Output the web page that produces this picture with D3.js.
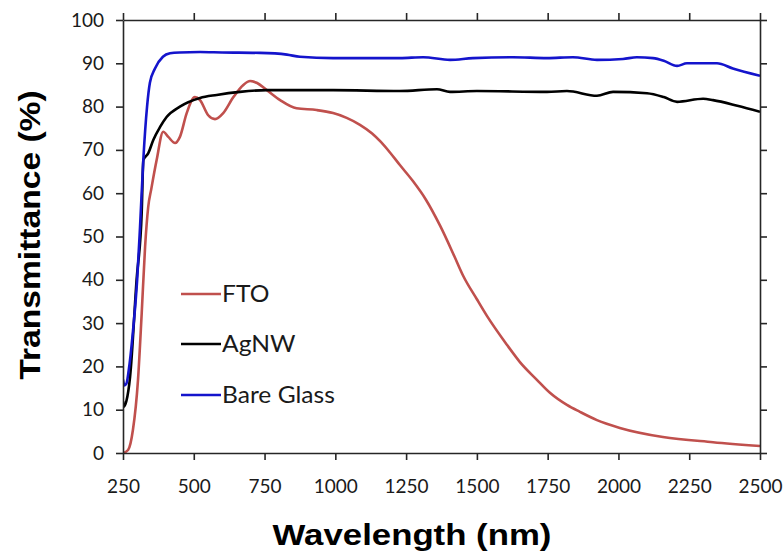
<!DOCTYPE html>
<html>
<head>
<meta charset="utf-8">
<script src="https://cdn.jsdelivr.net/npm/d3@7"></script>
<style>
  html, body { margin: 0; padding: 0; background: #fff; }
  svg { display: block; }
</style>
</head>
<body>
<svg id="chart" width="784" height="555"></svg>
<script>
// ---- Data ----
const xTicks = [250, 500, 750, 1000, 1250, 1500, 1750, 2000, 2250, 2500];
const yTicks = [0, 10, 20, 30, 40, 50, 60, 70, 80, 90, 100];

const seriesNames = ["FTO", "AgNW", "Bare Glass"];
const seriesColors = ["#c0504d", "#000000", "#1414cc"];

const ftoWavelength = [250, 268, 285, 303, 316, 328, 339, 350, 369, 392, 410, 434, 451, 475, 504, 522, 551, 575, 604, 640, 675, 699, 722, 758, 805, 863, 934, 992, 1040, 1087, 1130, 1160, 1193, 1228, 1274, 1320, 1370, 1420, 1451, 1500, 1536, 1606, 1652, 1712, 1758, 1818, 1864, 1924, 2005, 2157, 2334, 2500];
const ftoT = [0, 0.7, 5.3, 16.9, 32.2, 47.6, 56.8, 61, 67.7, 74.2, 73, 71.6, 73, 78.5, 82.2, 81.5, 78, 77.1, 78.5, 82.2, 85, 85.9, 85.5, 83.8, 81.5, 79.6, 79.2, 78.5, 77.4, 75.8, 73.8, 71.9, 69.4, 66.5, 62.8, 58.5, 52.5, 45.5, 41.0, 35.5, 31.6, 25.0, 21.0, 16.9, 13.9, 11.1, 9.5, 7.6, 5.8, 3.7, 2.5, 1.6];

const agnwWavelength = [250, 253, 262, 275, 298, 316, 322, 339, 357, 381, 404, 451, 522, 581, 663, 758, 992, 1228, 1359, 1405, 1500, 1748, 1818, 1924, 1981, 2101, 2160, 2207, 2299, 2334, 2420, 2500];
const agnwT = [12, 10.7, 12, 17.6, 40, 55.4, 67.7, 69.2, 72.3, 75.3, 77.6, 80, 82, 82.7, 83.4, 83.8, 83.8, 83.6, 84, 83.4, 83.6, 83.4, 83.6, 82.5, 83.4, 83.1, 82.2, 81.1, 81.8, 81.5, 80.2, 78.8];

const glassWavelength = [250, 255, 262, 270, 285, 300, 310, 322, 335, 345, 363, 391, 416, 450, 522, 600, 734, 829, 875, 992, 1228, 1310, 1405, 1486, 1627, 1748, 1839, 1924, 2016, 2065, 2122, 2160, 2207, 2242, 2348, 2404, 2500];
const glassT = [17, 15.6, 16, 19, 28, 40, 52, 68, 80, 85.5, 88.8, 91.5, 92.3, 92.5, 92.6, 92.5, 92.4, 92.0, 91.5, 91.2, 91.2, 91.4, 90.8, 91.2, 91.4, 91.2, 91.4, 90.8, 91.0, 91.4, 91.2, 90.6, 89.4, 90.0, 90.0, 88.8, 87.1];

const xTitle = "Wavelength (nm)";
const yTitle = "Transmittance (%)";

// ---- Layout ----
const svg = d3.select("#chart");
const mLeft = 123, mRight = 760, mTop = 20, mBottom = 453;

const x = d3.scaleLinear().domain([250, 2500]).range([mLeft, mRight]);
const y = d3.scaleLinear().domain([0, 100]).range([mBottom, mTop]);

const axisColor = "#262626";
const tickFont = "Lato, 'Open Sans', sans-serif";

const series = [
  { name: seriesNames[0], color: seriesColors[0], xs: ftoWavelength, ys: ftoT },
  { name: seriesNames[1], color: seriesColors[1], xs: agnwWavelength, ys: agnwT },
  { name: seriesNames[2], color: seriesColors[2], xs: glassWavelength, ys: glassT }
];

const line = d3.line()
  .x(d => x(d[0]))
  .y(d => y(d[1]))
  .curve(d3.curveMonotoneX);

svg.append("clipPath").attr("id", "plotclip")
  .append("rect").attr("x", mLeft).attr("y", mTop - 2).attr("width", mRight - mLeft).attr("height", mBottom - mTop + 4);

const plot = svg.append("g").attr("clip-path", "url(#plotclip)");
series.forEach(s => {
  plot.append("path")
    .datum(s.xs.map((v, i) => [v, s.ys[i]]))
    .attr("fill", "none")
    .attr("stroke", s.color)
    .attr("stroke-width", 2.6)
    .attr("stroke-linejoin", "round")
    .attr("d", line);
});

function styleAxis(g) {
  g.selectAll(".domain").attr("stroke", axisColor).attr("stroke-width", 1.6);
  g.selectAll(".tick line").attr("stroke", axisColor).attr("stroke-width", 1.6);
}

const gx = svg.append("g").attr("transform", `translate(0,${mBottom})`)
  .call(d3.axisBottom(x).tickValues(xTicks).tickSize(7).tickSizeOuter(0).tickPadding(20).tickFormat(d3.format("d")));
styleAxis(gx);
gx.selectAll("text").attr("font-family", tickFont).attr("font-size", 19).attr("fill", "#1a1a1a");

const gxTop = svg.append("g").attr("transform", `translate(0,${mTop})`)
  .call(d3.axisTop(x).tickValues(xTicks).tickSize(7).tickSizeOuter(0).tickFormat(""));
styleAxis(gxTop);

const gy = svg.append("g").attr("transform", `translate(${mLeft},0)`)
  .call(d3.axisLeft(y).tickValues(yTicks).tickSize(7).tickSizeOuter(0).tickPadding(12));
styleAxis(gy);
gy.selectAll("text").attr("font-family", tickFont).attr("font-size", 19).attr("fill", "#1a1a1a");

const gyR = svg.append("g").attr("transform", `translate(${mRight},0)`)
  .call(d3.axisRight(y).tickValues(yTicks).tickSize(7).tickSizeOuter(0).tickFormat(""));
styleAxis(gyR);

svg.append("text")
  .attr("transform", "translate(412,545) scale(1.16,1)")
  .attr("text-anchor", "middle")
  .attr("font-family", "'Liberation Sans', Arial, sans-serif")
  .attr("font-weight", "bold")
  .attr("font-size", 30)
  .attr("fill", "#000")
  .text(xTitle);

svg.append("text")
  .attr("transform", "translate(40,235) rotate(-90) scale(1.12,1)")
  .attr("text-anchor", "middle")
  .attr("font-family", "'Liberation Sans', Arial, sans-serif")
  .attr("font-weight", "bold")
  .attr("font-size", 30)
  .attr("fill", "#000")
  .text(yTitle);

const legendY = [294, 344, 395];
series.forEach((s, i) => {
  svg.append("line")
    .attr("x1", 181).attr("x2", 221)
    .attr("y1", legendY[i]).attr("y2", legendY[i])
    .attr("stroke", s.color).attr("stroke-width", 2.6);
  svg.append("text")
    .attr("transform", `translate(222,${legendY[i] + 8}) scale(1.07,1)`)
    .attr("font-family", tickFont)
    .attr("font-size", 23)
    .attr("fill", "#1a1a1a")
    .text(s.name);
});
</script>
</body>
</html>
